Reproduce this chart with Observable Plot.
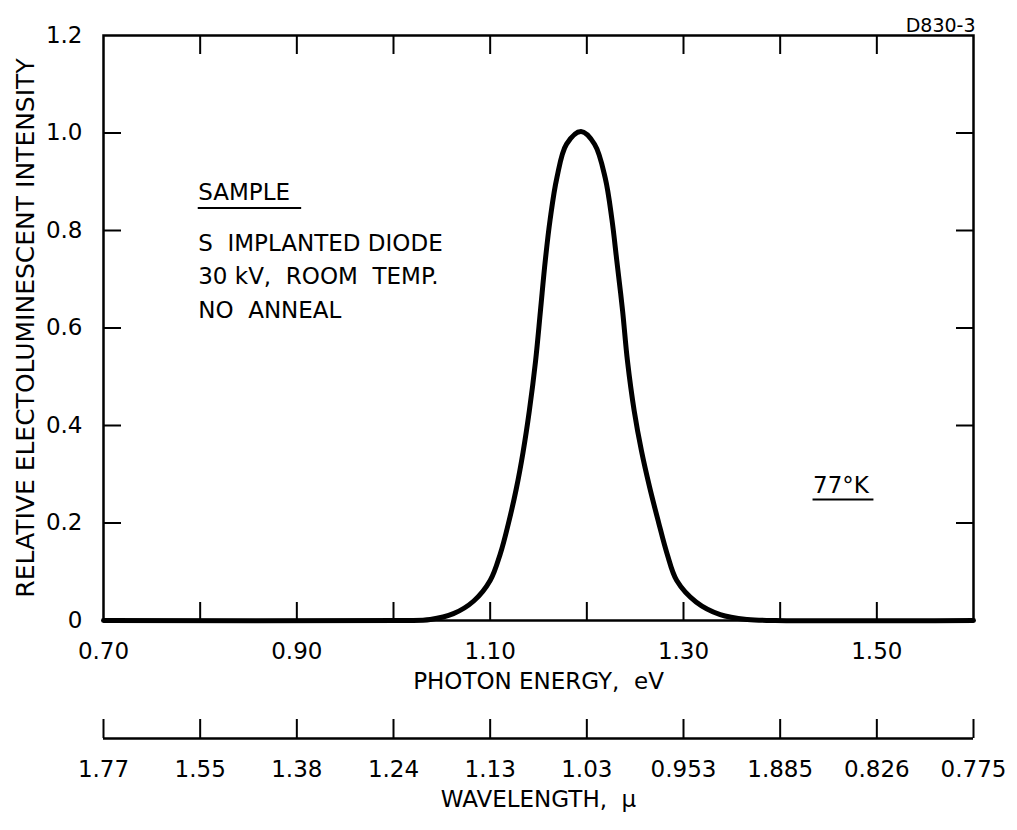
<!DOCTYPE html>
<html>
<head>
<meta charset="utf-8">
<script src="https://cdn.jsdelivr.net/npm/d3@7"></script>
<script src="https://cdn.jsdelivr.net/npm/@observablehq/plot@0.6"></script>
<style>
  html, body { margin: 0; padding: 0; background: #fff; }
  svg text { white-space: pre; }
</style>
</head>
<body>
<div id="chart"></div>
<script>
// Photon energy (eV) and relative electroluminescent intensity
const energy = [0.70, 1.010, 1.038, 1.062, 1.083, 1.100, 1.1105, 1.119, 1.127, 1.134, 1.1405, 1.147, 1.152, 1.157, 1.162, 1.169, 1.179, 1.194, 1.208, 1.219, 1.226, 1.231, 1.237, 1.242, 1.249, 1.2565, 1.265, 1.274, 1.283, 1.293, 1.313, 1.338, 1.366, 1.395, 1.60];
const intensity = [0, 0, 0.002, 0.014, 0.040, 0.082, 0.137, 0.200, 0.270, 0.345, 0.430, 0.533, 0.635, 0.738, 0.822, 0.908, 0.977, 1.003, 0.977, 0.908, 0.822, 0.738, 0.635, 0.533, 0.430, 0.348, 0.273, 0.203, 0.137, 0.082, 0.038, 0.012, 0.002, 0, 0];

// Axes
const energyLabelTicks = [0.70, 0.90, 1.10, 1.30, 1.50];
const energyMinorTicks = [0.80, 0.90, 1.00, 1.10, 1.20, 1.30, 1.40, 1.50];
const intensityTicks = [0, 0.2, 0.4, 0.6, 0.8, 1.0, 1.2];
const intensityInnerTicks = [0.2, 0.4, 0.6, 0.8, 1.0];
const wavelengthPositions = [0.70, 0.80, 0.90, 1.00, 1.10, 1.20, 1.30, 1.40, 1.50, 1.60];
const wavelengthLabels = ["1.77", "1.55", "1.38", "1.24", "1.13", "1.03", "0.953", "1.885", "0.826", "0.775"];

// Annotations (anchored in data coordinates)
const sampleLines = ["S  IMPLANTED DIODE", "30 kV,  ROOM  TEMP.", "NO  ANNEAL"];
const sampleLineY = [0.773, 0.706, 0.636];
const sampleX = 0.798;
const sampleTitle = {text: "SAMPLE", x: 0.798, y: 0.878, ux2: 0.905, uy: 0.846};
const tempNote = {text: "77°K", x: 1.434, y: 0.277, ux2: 1.497, uy: 0.248};

const curve = energy.map((e, i) => ({e, v: intensity[i]}));
const annot = sampleLines.map((t, i) => ({t, x: sampleX, y: sampleLineY[i]}));

const fmtY = d => d === 0 ? "0" : d.toFixed(1);

const chart = Plot.plot({
  width: 1017,
  height: 830,
  marginLeft: 103,
  marginRight: 44,
  marginTop: 35,
  marginBottom: 210,
  style: {fontFamily: "'DejaVu Sans', sans-serif", fontSize: "23px", color: "#000", background: "#fff"},
  x: {domain: [0.70, 1.60], axis: null},
  y: {domain: [0, 1.2], axis: null},
  marks: [
    Plot.frame({stroke: "#000", strokeWidth: 2.5}),
    // inward ticks on all four sides
    Plot.axisX({anchor: "bottom", ticks: energyMinorTicks, tickSize: -18, fill: "none", strokeWidth: 2, label: null}),
    Plot.axisX({anchor: "top", ticks: energyMinorTicks, tickSize: -18, fill: "none", strokeWidth: 2, label: null}),
    Plot.axisY({anchor: "left", ticks: intensityInnerTicks, tickSize: -18, fill: "none", strokeWidth: 2, label: null}),
    Plot.axisY({anchor: "right", ticks: intensityInnerTicks, tickSize: -18, fill: "none", strokeWidth: 2, label: null}),
    // tick labels
    Plot.axisX({anchor: "bottom", ticks: energyLabelTicks, tickFormat: d => d.toFixed(2), tickSize: 0, tickPadding: 22, stroke: "none", fontSize: 23, label: null}),
    Plot.axisY({anchor: "left", ticks: intensityTicks, tickFormat: fmtY, tickSize: 0, tickPadding: 21, stroke: "none", fontSize: 23, label: null}),
    // secondary wavelength axis
    Plot.ruleY([0], {dy: 118, stroke: "#000", strokeWidth: 2.5}),
    Plot.axisX({anchor: "bottom", ticks: wavelengthPositions, tickSize: -19, dy: 118, fill: "none", strokeWidth: 2, label: null}),
    Plot.axisX({anchor: "bottom", ticks: wavelengthPositions, tickFormat: d => wavelengthLabels[wavelengthPositions.indexOf(d)], tickSize: 0, tickPadding: 22, dy: 118, stroke: "none", fontSize: 23, label: null}),
    // axis titles
    Plot.text(["PHOTON ENERGY,  eV"], {frameAnchor: "bottom", dy: 68, fontSize: 23}),
    Plot.text(["WAVELENGTH,  μ"], {frameAnchor: "bottom", dy: 186, fontSize: 23}),
    Plot.text(["RELATIVE ELECTOLUMINESCENT INTENSITY"], {frameAnchor: "left", textAnchor: "middle", rotate: -90, dx: -78, fontSize: 25}),
    Plot.text(["D830-3"], {frameAnchor: "top-right", dy: -17, dx: 2, textAnchor: "end", fontSize: 19}),
    // annotations
    Plot.text([sampleTitle], {x: "x", y: "y", text: "text", textAnchor: "start", fontSize: 23}),
    Plot.ruleY([sampleTitle], {x1: "x", x2: "ux2", y: "uy", stroke: "#000", strokeWidth: 2}),
    Plot.text(annot, {x: "x", y: "y", text: "t", textAnchor: "start", fontSize: 23}),
    Plot.text([tempNote], {x: "x", y: "y", text: "text", textAnchor: "start", fontSize: 23}),
    Plot.ruleY([tempNote], {x1: "x", x2: "ux2", y: "uy", stroke: "#000", strokeWidth: 2}),
    // spectrum
    Plot.line(curve, {x: "e", y: "v", stroke: "#000", strokeWidth: 5, curve: "catmull-rom", strokeLinejoin: "round", strokeLinecap: "round"})
  ]
});
document.getElementById("chart").appendChild(chart);
</script>
</body>
</html>
